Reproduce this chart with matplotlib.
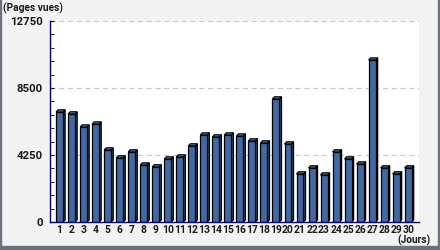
import matplotlib
matplotlib.use("Agg")
import matplotlib.pyplot as plt
from matplotlib.patches import Polygon, Rectangle

# Pages vues par jour
days = list(range(1, 31))
views = [6975, 6850, 6020, 6210, 4565, 4060, 4440, 3610, 3490, 3990,
         4120, 4820, 5515, 5390, 5515, 5450, 5135, 5010, 7800, 4945,
         3045, 3425, 2980, 4440, 3995, 3675, 10270, 3425, 3045, 3425]
y_ticks = [0, 4250, 8500, 12750]

BAR = "#4169a3"
SIDE = "#2c4c7c"
TOP = "#6a8cc0"
NAVY = "#000066"
FONT = ["Roboto", "DejaVu Sans"]
TXT = "#1a1a1a"

fig = plt.figure(figsize=(4.4, 2.5), dpi=100, facecolor="#f2f2f2")
ax = fig.add_axes([50 / 440, 28 / 250, 369 / 440, 201 / 250])
ax.set_facecolor("white")

w = 0.58
dx, dy = 0.17, 140  # 3D offset (x units, value units)
ax.bar(days, views, width=w, color=BAR, edgecolor="black", linewidth=0.9, zorder=3)
for d, v in zip(days, views):
    x0, x1 = d - w / 2, d + w / 2
    side = Polygon([(x1, 0), (x1 + dx, dy), (x1 + dx, v + dy), (x1, v)],
                   closed=True, facecolor=SIDE, edgecolor="black", linewidth=0.9, zorder=2)
    top = Polygon([(x0, v), (x0 + dx, v + dy), (x1 + dx, v + dy), (x1, v)],
                  closed=True, facecolor=TOP, edgecolor="black", linewidth=0.9, zorder=2)
    ax.add_patch(side)
    ax.add_patch(top)

ax.set_xlim(0.2, 30.9)
ax.set_ylim(0, 12750)
ax.set_yticks(y_ticks)
ax.set_yticks(range(0, 12751, 850), minor=True)
ax.set_xticks(days)
ax.set_xticklabels([str(d) for d in days], family=FONT, fontsize=7.4, fontweight="bold",
                   color=TXT)
ax.set_yticklabels([str(t) for t in y_ticks], family=FONT, fontsize=8.2, fontweight="bold",
                   color=TXT)

for t in y_ticks[1:]:
    ax.axhline(t, color="#c8c8c8", linestyle=(0, (4, 3)), linewidth=0.9, zorder=1)

for s in ["top", "right"]:
    ax.spines[s].set_visible(False)
for s in ["left", "bottom"]:
    ax.spines[s].set_color(NAVY)
    ax.spines[s].set_linewidth(1.0)
    ax.spines[s].set_zorder(4)

ax.tick_params(axis="y", which="both", direction="in", length=3, color=NAVY, pad=5)
ax.tick_params(axis="x", length=0, pad=2)

fig.text(3 / 440, 1 - 8 / 250, "(Pages vues)", family=FONT, fontsize=7.3, fontweight="bold",
         color=TXT, va="center", ha="left")
fig.text(430 / 440, 1 - 240 / 250, "(Jours)", family=FONT, fontsize=7.3, fontweight="bold",
         color=TXT, va="center", ha="right")

# outer frame
frame = "#6e717d"
fig.patches.append(Rectangle((0, 0), 1 / 440, 1, transform=fig.transFigure, color=frame))
fig.patches.append(Rectangle((438 / 440, 0), 2 / 440, 1, transform=fig.transFigure, color=frame))
fig.patches.append(Rectangle((0, 0), 1, 4 / 250, transform=fig.transFigure, color=frame))

fig.savefig("out.png", dpi=100, facecolor=fig.get_facecolor())
